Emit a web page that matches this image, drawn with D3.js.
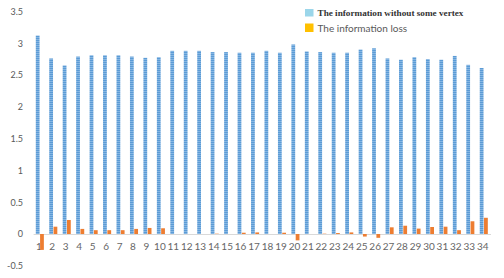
<!DOCTYPE html>
<html>
<head>
<meta charset="utf-8">
<script src="https://cdn.jsdelivr.net/npm/d3@7"></script>
<style>
  body { margin: 0; background: #fff; }
  svg { display: block; }
</style>
</head>
<body>
<svg width="504" height="278"></svg>
<script>
// данные диаграммы
const categories = d3.range(1, 35).map(String);

const infoWithout = [3.12, 2.76, 2.65, 2.79, 2.81, 2.81, 2.81, 2.79, 2.77, 2.78,
                     2.88, 2.88, 2.88, 2.86, 2.86, 2.85, 2.85, 2.88, 2.85, 2.98,
                     2.87, 2.86, 2.85, 2.85, 2.90, 2.92, 2.76, 2.74, 2.78, 2.75,
                     2.74, 2.80, 2.66, 2.61];

const infoLoss = [-0.25, 0.115, 0.22, 0.08, 0.06, 0.06, 0.06, 0.08, 0.095, 0.09,
                  0, 0, 0, 0.005, 0, 0.02, 0.025, 0, 0.02, -0.1,
                  0, 0.005, 0.015, 0.025, -0.04, -0.06, 0.105, 0.13, 0.085, 0.11,
                  0.115, 0.06, 0.2, 0.255];

const tickValuesY = [-0.5, 0, 0.5, 1, 1.5, 2, 2.5, 3, 3.5];
const tickLabelsY = ["-0.5", "0", "0.5", "1", "1.5", "2", "2.5", "3", "3.5"];

const legendLabels = ["The information without some vertex", "The information loss"];

const svg = d3.select("svg");

// шкалы
const scX = d3.scaleBand()
    .domain(categories)
    .range([33.1, 490.5])
    .paddingInner(0.4)
    .paddingOuter(0.2);

const scY = d3.scaleLinear()
    .domain([-0.5, 3.5])
    .range([265.8, 11.4]);

const innerX = d3.scaleBand()
    .domain(["without", "loss"])
    .range([0, scX.bandwidth()])
    .paddingInner(0.12);

// полосатая заливка синих столбцов
const defs = svg.append("defs");
const pat = defs.append("pattern")
    .attr("id", "stripes")
    .attr("patternUnits", "userSpaceOnUse")
    .attr("width", 4)
    .attr("height", 2);
pat.append("rect").attr("width", 4).attr("height", 1).attr("fill", "#5b9bd5");
pat.append("rect").attr("y", 1).attr("width", 4).attr("height", 1).attr("fill", "#86b6e3");

// ось Y (только подписи)
const axisY = d3.axisLeft(scY)
    .tickValues(tickValuesY)
    .tickSize(0)
    .tickPadding(0)
    .tickFormat((d, i) => tickLabelsY[i]);

svg.append("g")
    .attr("transform", "translate(23, 0)")
    .call(axisY)
    .call(g => g.select(".domain").remove())
    .selectAll("text")
    .attr("font-family", "Lato, 'Open Sans', sans-serif")
    .attr("font-size", 9)
    .attr("fill", "#595959");

// ось X
const axisX = d3.axisBottom(scX)
    .tickSize(0)
    .tickPadding(0)
    .tickSizeOuter(0);

const gx = svg.append("g")
    .attr("transform", `translate(0, ${scY(0)})`)
    .call(axisX);

gx.select(".domain").attr("stroke", "#d9d9d9").attr("stroke-width", 1);
gx.selectAll("text")
    .attr("x", -1)
    .attr("dy", 0)
    .attr("y", 16)
    .attr("font-family", "Lato, 'Open Sans', sans-serif")
    .attr("font-size", 10)
    .attr("fill", "#666");

// столбцы
svg.append("g").selectAll("rect")
    .data(categories)
    .join("rect")
    .attr("x", (d, i) => scX(d) + innerX("without"))
    .attr("y", (d, i) => scY(infoWithout[i]))
    .attr("width", innerX.bandwidth())
    .attr("height", (d, i) => scY(0) - scY(infoWithout[i]))
    .attr("fill", "url(#stripes)");

svg.append("g").selectAll("rect")
    .data(categories)
    .join("rect")
    .attr("x", (d, i) => scX(d) + innerX("loss"))
    .attr("y", (d, i) => scY(Math.max(0, infoLoss[i])))
    .attr("width", innerX.bandwidth())
    .attr("height", (d, i) => Math.abs(scY(0) - scY(infoLoss[i])))
    .attr("fill", "#ed7d31");

// легенда
const legend = svg.append("g").attr("transform", "translate(305, 8)");

legend.append("rect")
    .attr("x", 0).attr("y", 1)
    .attr("width", 8.5).attr("height", 7.5)
    .attr("fill", "#9bd6ea");
legend.append("text")
    .attr("x", 12.5).attr("y", 8.3)
    .attr("font-family", "'Liberation Serif', 'DejaVu Serif', serif")
    .attr("font-size", 9.2)
    .attr("font-weight", "bold")
    .attr("fill", "#333")
    .text(legendLabels[0]);

legend.append("rect")
    .attr("x", 0).attr("y", 15.5)
    .attr("width", 8.5).attr("height", 8.5)
    .attr("fill", "#ffc000");
legend.append("text")
    .attr("x", 12.5).attr("y", 23.5)
    .attr("font-family", "Lato, 'Open Sans', sans-serif")
    .attr("font-size", 10)
    .attr("fill", "#595959")
    .text(legendLabels[1]);
</script>
</body>
</html>
